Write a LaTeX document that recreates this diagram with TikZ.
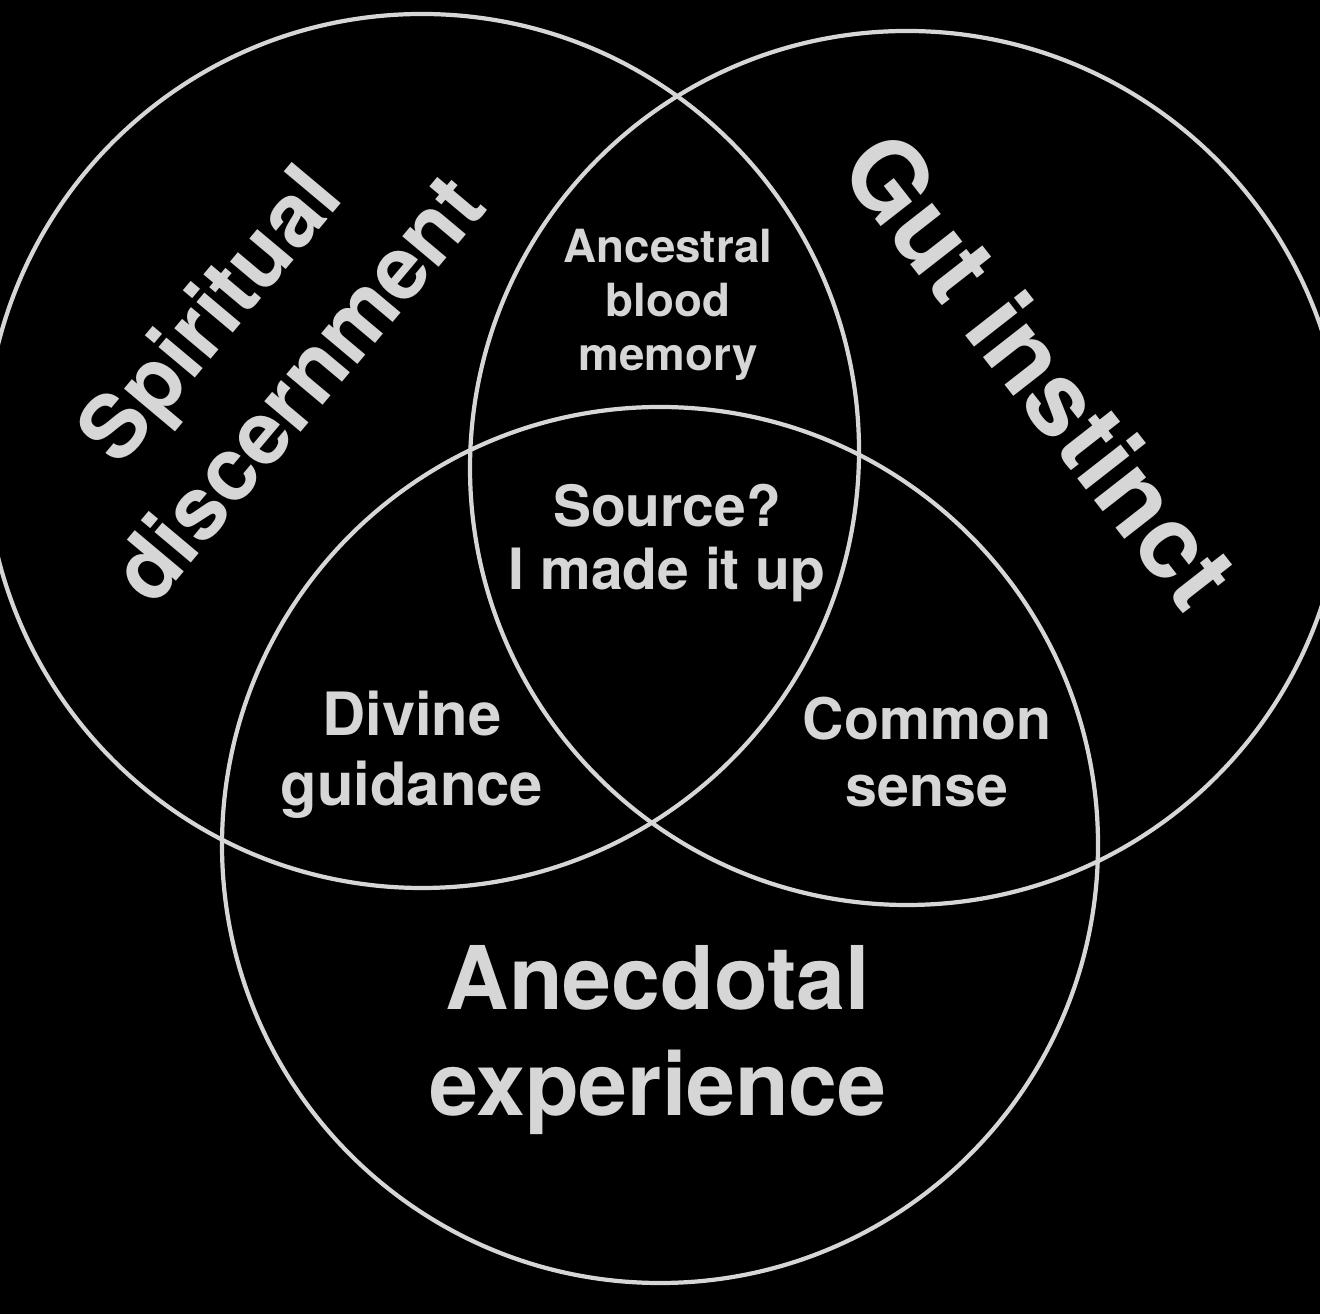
\documentclass[tikz,border=0pt]{standalone}
\usepackage{fontspec}
\setmainfont{TeX Gyre Heros}
\definecolor{chalk}{RGB}{214,214,214}

\begin{document}
\begin{tikzpicture}[x=1cm,y=1cm,ring/.style={circle,draw=chalk,line width=1.2pt,inner sep=0pt,minimum size=8.74cm},biglabel/.style={text=chalk,align=center,inner sep=0pt},smalllabel/.style={text=chalk,align=center,inner sep=0pt}]
\fill[black] (0,0) rectangle (13.2,13.14);
\useasboundingbox (0,0) rectangle (13.2,13.14);
\clip (0,0) rectangle (13.2,13.14);
\coordinate (S) at (4.22,8.63);
\coordinate (G) at (9.07,8.46);
\coordinate (E) at (6.60,4.69);
\node[ring] (spirit) at (S) {};
\node[ring] (gut) at (G) {};
\node[ring,minimum size=8.76cm] (anec) at (E) {};
\node[biglabel,rotate=50,font=\bfseries\fontsize{25}{33}\selectfont] (spiritlabel) at (2.52,9.64) {Spiritual\\discernment};
\node[biglabel,rotate=-52,font=\bfseries\fontsize{29}{35}\selectfont] (gutlabel) at (10.40,9.44) {Gut instinct};
\node[biglabel,font=\bfseries\fontsize{25}{30}\selectfont] (aneclabel) at (6.58,2.74) {Anecdotal\\experience};
\node[smalllabel,font=\bfseries\fontsize{13}{15.4}\selectfont] (ancestral) at (6.68,10.09) {Ancestral\\blood\\memory};
\node[smalllabel,font=\bfseries\fontsize{16.2}{17.9}\selectfont] (source) at (6.67,7.71) {Source?\\I made it up};
\node[smalllabel,font=\bfseries\fontsize{17}{20}\selectfont] (divine) at (4.12,5.59) {Divine\\guidance};
\node[smalllabel,font=\bfseries\fontsize{16.3}{19.3}\selectfont] (common) at (9.27,5.62) {Common\\sense};
\end{tikzpicture}
\end{document}
